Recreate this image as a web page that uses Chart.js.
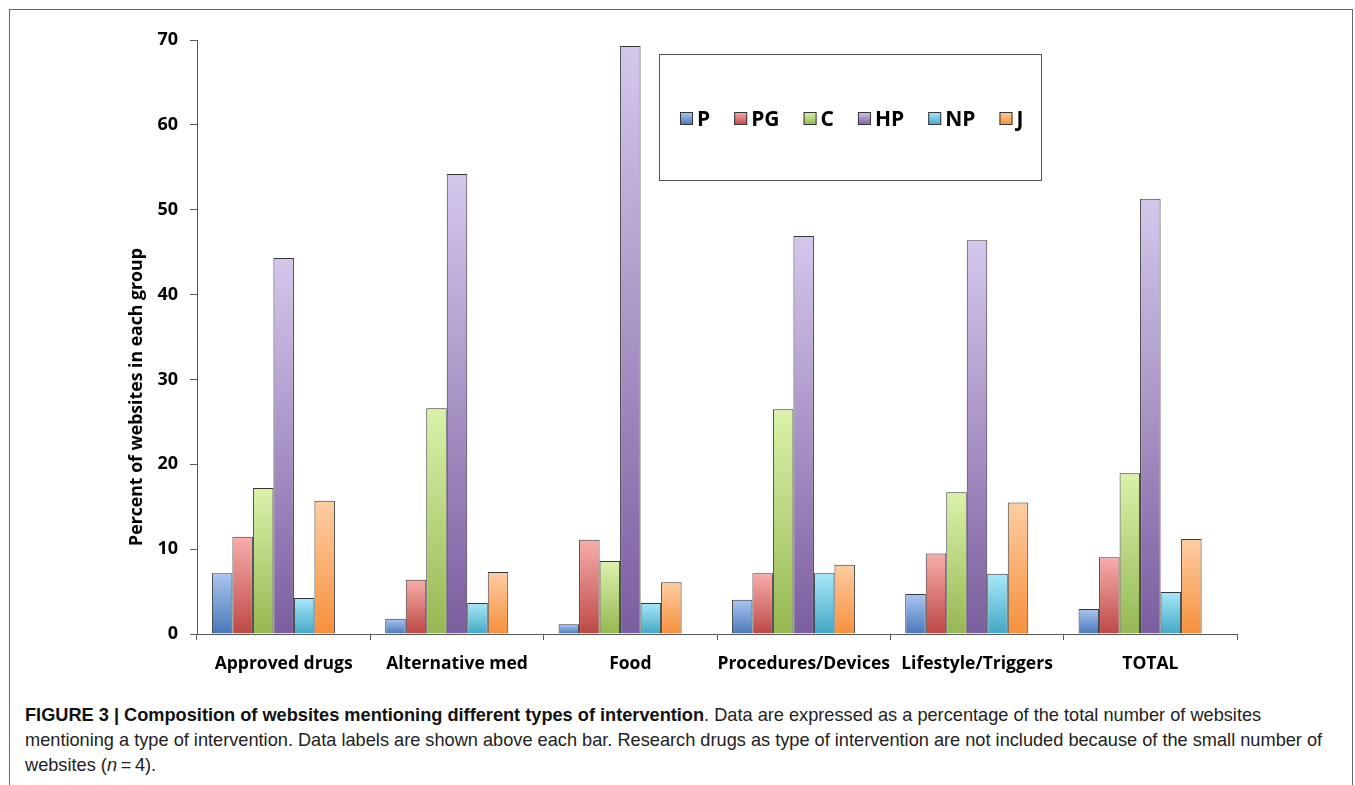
<!DOCTYPE html>
<html>
<head>
<meta charset="utf-8">
<script src="https://cdn.jsdelivr.net/npm/chart.js@4.4.1/dist/chart.umd.min.js"></script>
<style>
    html, body { margin: 0; padding: 0; background: #fff; width: 1355px; height: 785px; overflow: hidden; }
    #frame { position: absolute; left: 9px; top: 9px; width: 1344px; height: 800px; border: 1px solid #666; box-sizing: border-box; }
    #chart { position: absolute; left: 0; top: 0; }
    #caption { position: absolute; left: 25px; top: 703px; width: 1312px; font: 18.2px "Liberation Sans", Arial, sans-serif; line-height: 25px; color: #222; }
    #caption b { color: #111; }
</style>
</head>
<body>
<div id="frame"></div>
<canvas id="chart" width="1355" height="690"></canvas>
<div id="caption"><b>FIGURE 3 | Composition of websites mentioning different types of intervention</b>. Data are expressed as a percentage of the total number of websites mentioning a type of intervention. Data labels are shown above each bar. Research drugs as type of intervention are not included because of the small number of websites (<i>n</i>&thinsp;=&thinsp;4).</div>

<script>
// Data (percent of websites in each group)
const categories = ['Approved drugs', 'Alternative med', 'Food', 'Procedures/Devices', 'Lifestyle/Triggers', 'TOTAL'];
const seriesNames = ['P', 'PG', 'C', 'HP', 'NP', 'J'];
const pValues  = [7.15, 1.8, 1.15, 4.05, 4.7, 2.95];
const pgValues = [11.45, 6.4, 11.1, 7.15, 9.5, 9.05];
const cValues  = [17.2, 26.6, 8.6, 26.5, 16.7, 18.95];
const hpValues = [44.3, 54.2, 69.3, 46.9, 46.4, 51.3];
const npValues = [4.25, 3.65, 3.65, 7.15, 7.1, 4.95];
const jValues  = [15.7, 7.3, 6.1, 8.15, 15.5, 11.2];
// research drugs slot is left empty in the original (n = 4), it still takes a bar's space
const researchValues = [null, null, null, null, null, null];
const yTicks = [0, 10, 20, 30, 40, 50, 60, 70];

// top / bottom colours of each bar gradient
const palette = {
    P:  ['#abc6f2', '#4878b8'],
    PG: ['#f7aeab', '#bd4845'],
    C:  ['#daf2ab', '#96b752'],
    HP: ['#d4c7eb', '#7b5e9f'],
    NP: ['#a8e8fa', '#43a8c4'],
    J:  ['#fdcda3', '#f6903c']
};

const gradFill = (name) => (ctx) => {
    const chart = ctx.chart;
    const [top, bottom] = palette[name];
    if (!chart.chartArea || !ctx.parsed || ctx.parsed.y == null) return top;
    const y = chart.scales.y;
    const g = chart.ctx.createLinearGradient(0, y.getPixelForValue(ctx.parsed.y), 0, y.getPixelForValue(0));
    g.addColorStop(0, top);
    g.addColorStop(1, bottom);
    return g;
};

const allValues = [pValues, pgValues, cValues, hpValues, npValues, jValues];
const datasets = seriesNames.map((name, i) => ({
    label: name,
    data: allValues[i],
    backgroundColor: gradFill(name),
    borderColor: '#363636',
    borderWidth: 1,
    inLegend: true
}));
datasets.push({ label: 'Research drugs', data: researchValues, inLegend: false });

Chart.defaults.font.family = '"Open Sans", sans-serif';
Chart.defaults.color = '#000';

// boxed legend inside the plot + rotated y title
const figureExtras = {
    id: 'figureExtras',
    afterDraw(chart) {
        const c = chart.ctx;
        c.save();
        c.strokeStyle = '#555';
        c.lineWidth = 1;
        c.strokeRect(659.5, 54.5, 382, 126);

        c.font = 'bold 21px "Open Sans", sans-serif';
        c.textBaseline = 'middle';
        c.textAlign = 'left';
        let x = 680;
        chart.data.datasets.forEach(ds => {
            if (!ds.inLegend) return;
            const [top, bottom] = palette[ds.label];
            const g = c.createLinearGradient(0, 112, 0, 125);
            g.addColorStop(0, top); g.addColorStop(1, bottom);
            c.fillStyle = g;
            c.fillRect(x, 112, 13, 13);
            c.strokeStyle = '#363636';
            c.strokeRect(x + 0.5, 112.5, 12, 12);
            c.fillStyle = '#000';
            c.fillText(ds.label, x + 17, 120);
            x += 17 + c.measureText(ds.label).width + 24;
        });

        c.translate(137, 397);
        c.rotate(-Math.PI / 2);
        c.textAlign = 'center';
        c.font = 'bold 17.7px "Open Sans", sans-serif';
        c.fillText('Percent of websites in each group', 0, 0);
        c.restore();
    }
};

new Chart(document.getElementById('chart'), {
    type: 'bar',
    data: { labels: categories, datasets: datasets },
    options: {
        responsive: false,
        animation: false,
        layout: { padding: { top: 40, right: 118, bottom: 0, left: 0 } },
        datasets: { bar: { categoryPercentage: 0.828, barPercentage: 1 } },
        scales: {
            x: {
                afterFit: (s) => { s.height = 56; },
                grid: { drawOnChartArea: false, offset: true, tickLength: 6, color: '#595959' },
                border: { color: '#595959', width: 1 },
                ticks: { autoSkip: false, padding: 14, maxRotation: 0, font: { size: 17.5, weight: 'bold' }, color: '#000' }
            },
            y: {
                min: 0,
                max: 70,
                afterFit: (s) => { s.width = 197; },
                afterBuildTicks: (s) => { s.ticks = yTicks.map(v => ({ value: v })); },
                grid: { drawOnChartArea: false, tickLength: 7, color: '#595959' },
                border: { color: '#595959', width: 1 },
                ticks: { padding: 12, font: { size: 18, weight: 'bold' }, color: '#000' }
            }
        },
        plugins: { legend: { display: false }, tooltip: { enabled: false } }
    },
    plugins: [figureExtras]
});
</script>
</body>
</html>
